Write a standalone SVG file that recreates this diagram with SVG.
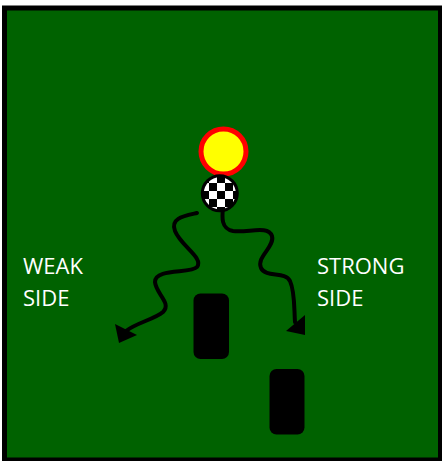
<svg xmlns="http://www.w3.org/2000/svg" width="442" height="461" viewBox="0 0 442 461">
  <defs>
    <style>
      .lbl { font-family: "Open Sans", "Liberation Sans", sans-serif; font-size: 22px; fill: #ffffff; }
      .path { fill: none; stroke: #000000; stroke-width: 4; stroke-linecap: round; }
      .block { fill: #000000; }
    </style>
    <pattern id="checker" x="201" y="175" width="16" height="16" patternUnits="userSpaceOnUse">
      <rect width="16" height="16" fill="#ffffff"/>
      <rect x="0" y="0" width="8" height="8" fill="#000000"/>
      <rect x="8" y="8" width="8" height="8" fill="#000000"/>
    </pattern>
  </defs>
  <rect id="field" x="4.5" y="8" width="436" height="452" fill="#006200" stroke="#000000" stroke-width="5"/>

  <g id="connectors">
    <path class="path" d="M197,213 C184,216 170,218 175,231 C181,246 204,258 197,267 C191,274 155,268 155,282 C156,294 172,303 163,312 C155,319 136,323 126,331"/>
    <polygon points="115,324 137,335 119,343" fill="#000000"/>
    <path class="path" d="M223,208 C222,217 221,229 233,231 C248,233 268,225 272,236 C275,247 256,257 261,268 C266,278 285,271 290,281 C295,292 294,308 295,322"/>
    <polygon points="286,331 305,315 305,335" fill="#000000"/>
  </g>

  <g id="defender">
    <circle cx="223.5" cy="151.5" r="22.5" fill="#ffff00" stroke="#ff0000" stroke-width="5"/>
  </g>
  <g id="ball">
    <circle cx="219.8" cy="193.3" r="17.5" fill="url(#checker)" stroke="#000000" stroke-width="3"/>
  </g>
  <g id="blocker1">
    <rect class="block" x="193.5" y="293.5" width="35.5" height="65.5" rx="7"/>
  </g>
  <g id="blocker2">
    <rect class="block" x="269.5" y="369" width="35" height="65.5" rx="7"/>
  </g>
  <g id="weak-side">
    <text class="lbl" x="23" y="274">WEAK</text>
    <text class="lbl" x="23" y="306">SIDE</text>
  </g>
  <g id="strong-side">
    <text class="lbl" x="317" y="274">STRONG</text>
    <text class="lbl" x="317" y="306">SIDE</text>
  </g>
</svg>
